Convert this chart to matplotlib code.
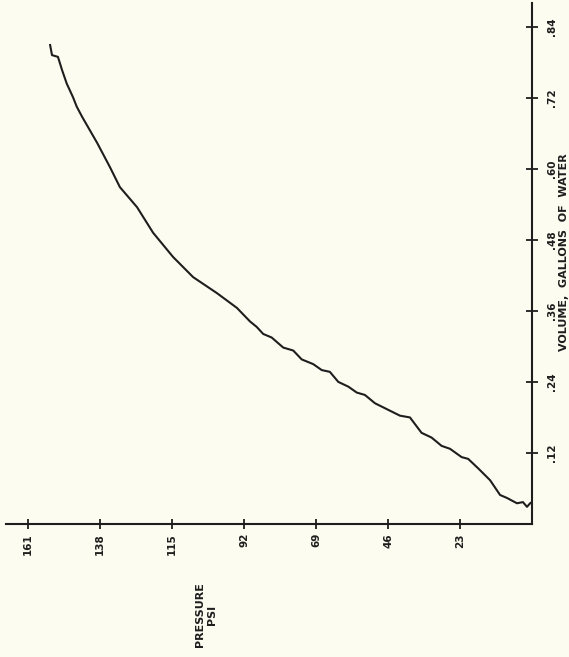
import matplotlib
matplotlib.use("Agg")
import matplotlib.pyplot as plt

# Data (pressure in psi, volume in gallons of water)
pressure = [0.0, 0.6, 1.6, 2.9, 4.8, 8.0, 10.2, 13.4, 17.2, 20.4, 22.5, 26.2, 28.9,
            32.1, 35.3, 39.0, 42.2, 46.4, 50.2, 53.4, 56.0, 58.7, 61.9, 64.6, 67.2,
            69.9, 73.6, 76.3, 79.5, 83.2, 85.9, 88.0, 90.1, 94.3, 100.7, 108.3,
            114.7, 121.1, 126.2, 131.7, 134.9, 139.0, 143.8, 145.5, 146.7, 148.7,
            150.2, 151.5, 153.4, 154.0]
volume = [0.037, 0.035, 0.029, 0.037, 0.035, 0.044, 0.049, 0.074, 0.094, 0.110, 0.113,
          0.127, 0.132, 0.146, 0.154, 0.180, 0.183, 0.194, 0.204, 0.218, 0.222, 0.232,
          0.240, 0.257, 0.260, 0.270, 0.278, 0.293, 0.298, 0.315, 0.321, 0.333, 0.342,
          0.365, 0.390, 0.417, 0.451, 0.492, 0.535, 0.569, 0.603, 0.644, 0.688, 0.705,
          0.721, 0.744, 0.767, 0.789, 0.792, 0.809]

pressure_ticks = [23, 46, 69, 92, 115, 138, 161]
pressure_labels = ["23", "46", "69", "92", "115", "138", "161"]
volume_ticks = [0.12, 0.24, 0.36, 0.48, 0.60, 0.72, 0.84]
volume_labels = [".12", ".24", ".36", ".48", ".60", ".72", ".84"]

W, H = 569, 657
bg = "#fcfcf0"
ink = "#1e1e1e"

fig = plt.figure(figsize=(W / 100, H / 100), dpi=100, facecolor=bg)
ax = fig.add_axes([6 / W, (H - 524) / H, (532 - 6) / W, (524 - 3) / H])
ax.set_facecolor(bg)

ax.plot(pressure, volume, color=ink, lw=1.5)

ax.set_xlim(168.1, 0)
ax.set_ylim(0, 0.88)

for s in ["top", "left"]:
    ax.spines[s].set_visible(False)
for s in ["bottom", "right"]:
    ax.spines[s].set_color(ink)
    ax.spines[s].set_linewidth(1.5)

ax.yaxis.tick_right()
ax.set_xticks(pressure_ticks)
ax.set_xticklabels(pressure_labels, rotation=90, fontsize=7.5, fontweight="bold",
                   color=ink, va="top", ha="center")
ax.set_yticks(volume_ticks)
ax.set_yticklabels(volume_labels, rotation=90, fontsize=7.5, fontweight="bold",
                   color=ink, va="center", ha="left")
ax.tick_params(axis="x", direction="inout", length=7, width=1.3, color=ink, pad=3)
ax.tick_params(axis="y", direction="inout", length=8, width=1.3, color=ink, pad=7)

fig.text(564 / W, (H - 252) / H, "VOLUME,  GALLONS  OF  WATER", rotation=90,
         ha="center", va="center", fontsize=8, fontweight="bold", color=ink)
fig.text(206 / W, (H - 615) / H, "PRESSURE\nPSI", rotation=90, ha="center",
         va="center", multialignment="center", fontsize=8, fontweight="bold",
         color=ink, linespacing=1.3)

fig.savefig("out.png", dpi=100, facecolor=bg)
